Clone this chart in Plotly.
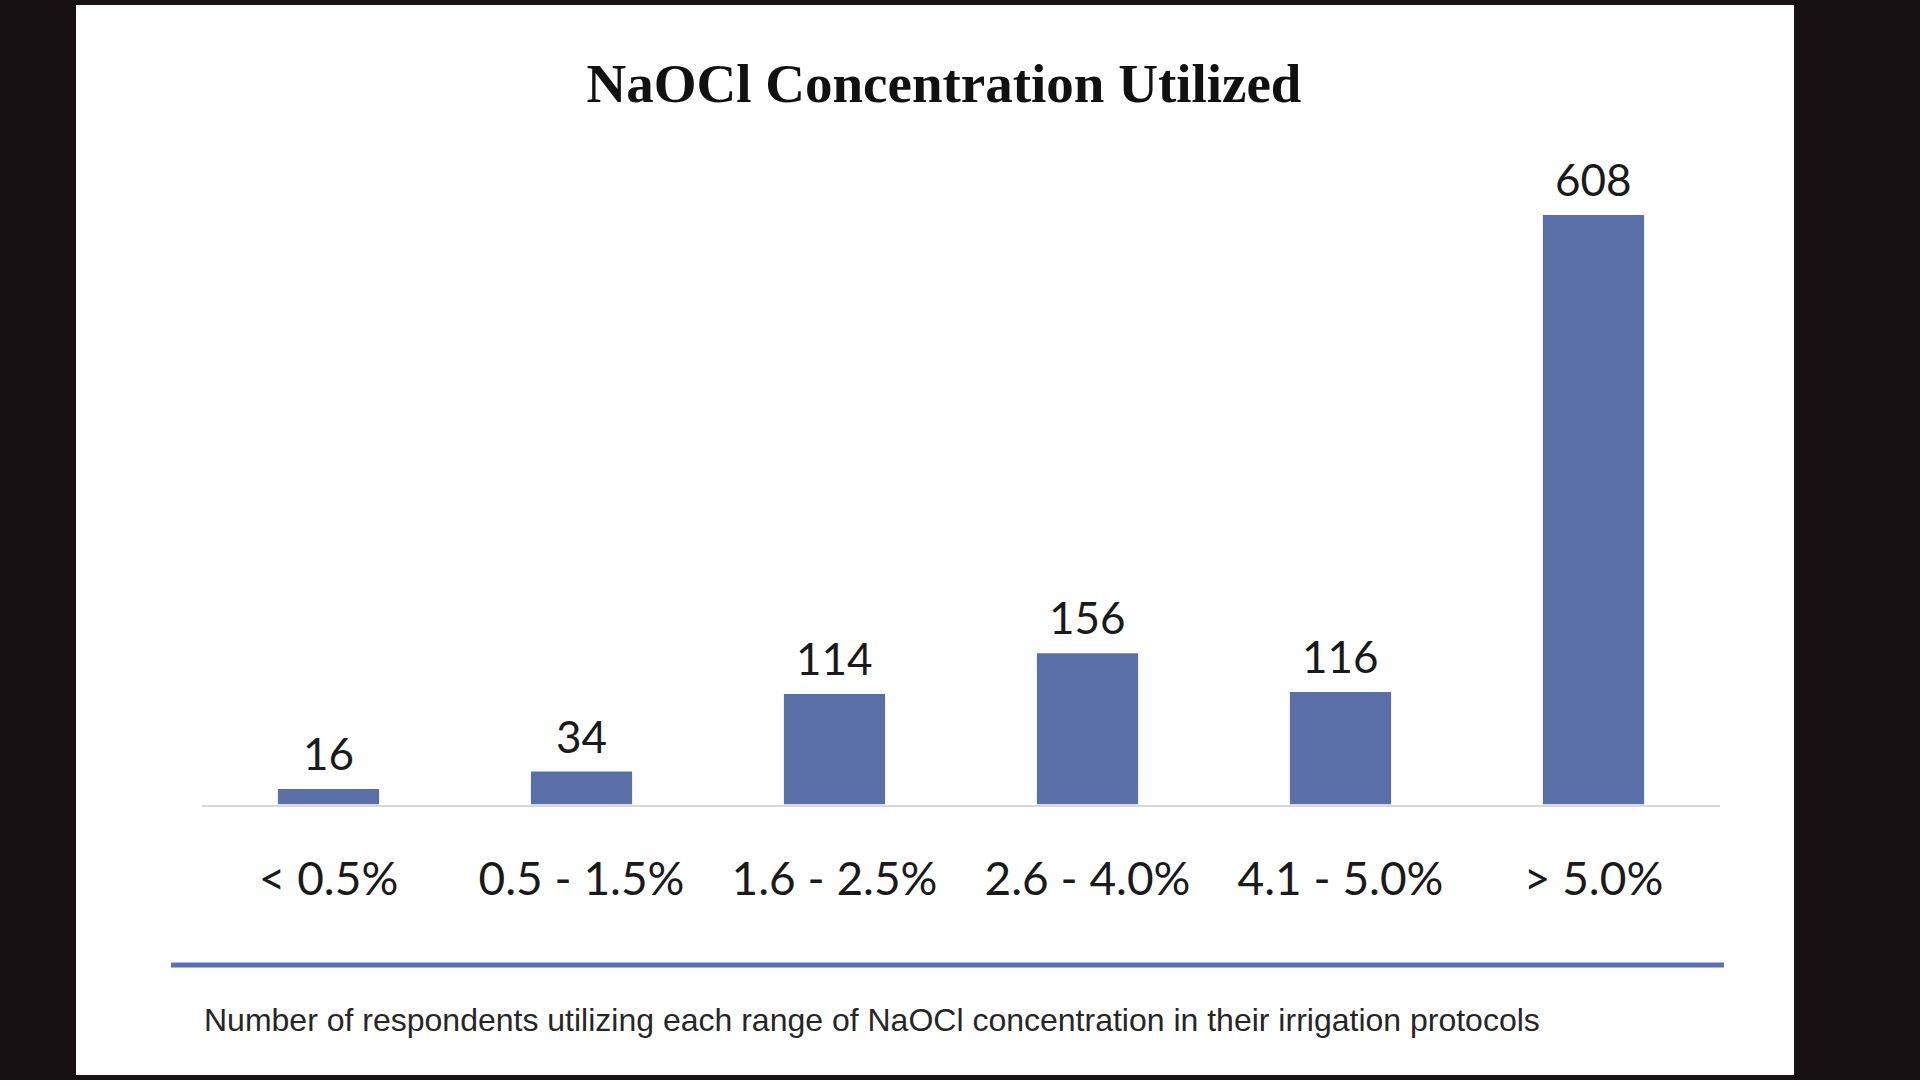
import plotly.graph_objects as go

# NaOCl concentration ranges and number of respondents
categories = ["< 0.5%", "0.5 - 1.5%", "1.6 - 2.5%", "2.6 - 4.0%", "4.1 - 5.0%", "> 5.0%"]
respondents = [16, 34, 114, 156, 116, 608]

title_text = "NaOCl Concentration Utilized"
note_text = ("Number of respondents utilizing each range of NaOCl concentration "
             "in their irrigation protocols")

W, H = 1920, 1080
bg_color = "#181113"
bar_color = "#5a6fa8"
label_font = dict(family="Lato, Open Sans, sans-serif", size=44, color="#1a1a1a")
tick_font = dict(family="Lato, Open Sans, sans-serif", size=46, color="#1a1a1a")

fig = go.Figure(go.Bar(
    x=categories,
    y=respondents,
    marker=dict(color=bar_color, line=dict(width=0)),
    hoverinfo="x+y",
))

# value labels above the bars
labels = [
    dict(x=c, y=v, text=str(v), xref="x", yref="y",
         xanchor="center", yanchor="bottom", yshift=8,
         showarrow=False, font=label_font)
    for c, v in zip(categories, respondents)
]

fig.update_layout(
    width=W,
    height=H,
    margin=dict(l=0, r=0, t=0, b=0),
    paper_bgcolor=bg_color,
    plot_bgcolor="rgba(0,0,0,0)",
    bargap=0.6,
    showlegend=False,
    title=dict(
        text=f"<b>{title_text}</b>",
        x=944 / W, xanchor="center",
        y=1 - 83 / H, yanchor="middle",
        font=dict(family="Liberation Serif, Times New Roman, serif", size=55, color="#111111"),
    ),
    xaxis=dict(
        domain=[202 / W, 1720 / W],
        showline=True, linecolor="#d9d9d9", linewidth=2,
        showgrid=False, zeroline=False,
        ticks="", ticklabelstandoff=33,
        tickfont=tick_font,
    ),
    yaxis=dict(
        domain=[1 - 804.5 / H, 1 - 150 / H],
        range=[0, 675],
        visible=False,
    ),
    shapes=[
        # white slide panel
        dict(type="rect", xref="paper", yref="paper", layer="below",
             x0=76 / W, x1=1794 / W, y0=1 - 1075 / H, y1=1 - 5 / H,
             fillcolor="white", line=dict(width=0)),
        # blue separator rule
        dict(type="line", xref="paper", yref="paper",
             x0=171 / W, x1=1724 / W, y0=1 - 965 / H, y1=1 - 965 / H,
             line=dict(color="#5a72b0", width=5)),
    ],
    annotations=labels + [
        dict(text=note_text, xref="paper", yref="paper",
             x=202 / W, xanchor="left", y=1 - 1020 / H, yanchor="middle",
             showarrow=False,
             font=dict(family="Liberation Sans, Arial, sans-serif",
                       size=32, color="#262626")),
    ],
)

fig.write_html(
    "out.html",
    config={"displayModeBar": False},
    post_script=f"document.body.style.margin='0';document.body.style.background='{bg_color}';",
)
